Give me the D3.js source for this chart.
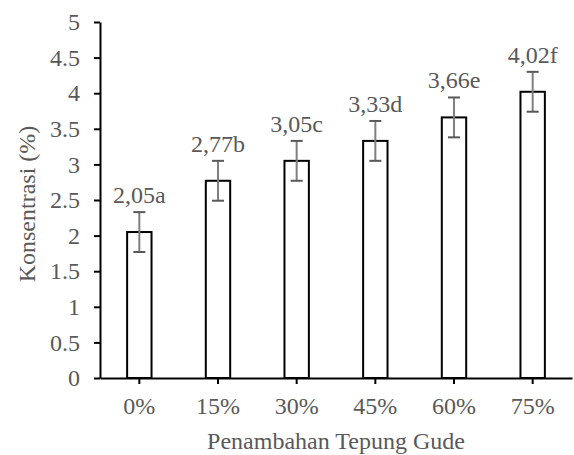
<!DOCTYPE html>
<html>
<head>
<meta charset="utf-8">
<script src="https://cdn.jsdelivr.net/npm/d3@7"></script>
<style>
  html, body { margin: 0; padding: 0; background: #fff; }
  svg { display: block; }
  svg text { font-family: "Liberation Serif", "Times New Roman", serif; fill: #595959; }
</style>
</head>
<body>
<svg id="chart" width="574" height="455"></svg>
<script>
const categories = ["0%", "15%", "30%", "45%", "60%", "75%"];
const values = [2.05, 2.77, 3.05, 3.33, 3.66, 4.02];
const errors = [0.28, 0.28, 0.28, 0.28, 0.28, 0.28];
const labels = ["2,05a", "2,77b", "3,05c", "3,33d", "3,66e", "4,02f"];
const yTicks = [0, 0.5, 1, 1.5, 2, 2.5, 3, 3.5, 4, 4.5, 5];
const xTitle = "Penambahan Tepung Gude";
const yTitle = "Konsentrasi (%)";

const svg = d3.select("#chart");
const mLeft = 100, mRight = 572, mTop = 22, mBottom = 378;
const fs = 24;
const serif = "'Liberation Serif', 'Times New Roman', serif";

const x = d3.scaleBand().domain(categories).range([mLeft, mRight])
  .paddingInner(0.69).paddingOuter(0.345);
const y = d3.scaleLinear().domain([0, 5]).range([mBottom, mTop]);

// Y axis
const yAxis = svg.append("g").attr("transform", `translate(${mLeft},0)`)
  .call(d3.axisLeft(y).tickValues(yTicks).tickSize(6).tickSizeOuter(0)
    .tickFormat(d => String(d)).tickPadding(14))
  .attr("font-family", serif).attr("font-size", fs);
yAxis.select(".domain").attr("stroke", "#000").attr("stroke-width", 2);
yAxis.selectAll(".tick line").attr("stroke", "#000").attr("stroke-width", 2);
yAxis.selectAll(".tick text").attr("fill", "#595959");

// Bars
svg.append("g").selectAll("rect").data(values).join("rect")
  .attr("x", (d, i) => x(categories[i]))
  .attr("y", d => y(d))
  .attr("width", x.bandwidth())
  .attr("height", d => y(0) - y(d))
  .attr("fill", "#fff")
  .attr("stroke", "#000")
  .attr("stroke-width", 2);

// X axis
const xAxis = svg.append("g").attr("transform", `translate(0,${mBottom})`)
  .call(d3.axisBottom(x).tickSize(6).tickSizeOuter(0).tickPadding(13))
  .attr("font-family", serif).attr("font-size", fs);
xAxis.select(".domain").attr("stroke", "#000").attr("stroke-width", 2);
xAxis.selectAll(".tick line").attr("stroke", "#000").attr("stroke-width", 2);
xAxis.selectAll(".tick text").attr("fill", "#595959");

// Error bars
const eb = svg.append("g");
values.forEach((v, i) => {
  const cx = x(categories[i]) + x.bandwidth() / 2;
  const hi = y(v + errors[i]), lo = y(v - errors[i]);
  eb.append("line").attr("x1", cx).attr("x2", cx).attr("y1", hi).attr("y2", lo)
    .attr("stroke", "#7f7f7f").attr("stroke-width", 2);
  [hi, lo].forEach(yy => {
    eb.append("line").attr("x1", cx - 6).attr("x2", cx + 6).attr("y1", yy).attr("y2", yy)
      .attr("stroke", "#595959").attr("stroke-width", 2);
  });
});

// Data labels
svg.append("g").attr("font-family", serif).selectAll("text").data(values).join("text")
  .attr("x", (d, i) => x(categories[i]) + x.bandwidth() / 2)
  .attr("y", (d, i) => y(d + errors[i]) - 9)
  .attr("text-anchor", "middle")
  .attr("font-size", fs)
  .text((d, i) => labels[i]);

// Axis titles
svg.append("text").attr("x", (mLeft + mRight) / 2).attr("y", 449)
  .attr("font-family", serif)
  .attr("text-anchor", "middle").attr("font-size", fs).text(xTitle);
svg.append("text").attr("transform", `translate(35,${(mTop + mBottom) / 2 + 4}) rotate(-90)`)
  .attr("font-family", serif)
  .attr("text-anchor", "middle").attr("font-size", fs).text(yTitle);
</script>
</body>
</html>
